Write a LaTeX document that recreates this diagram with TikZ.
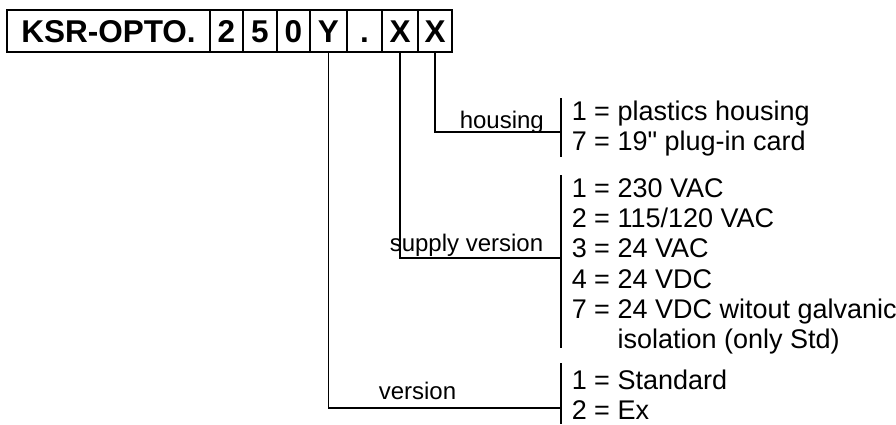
\documentclass[tikz,border=0pt]{standalone}
\usepackage{fontspec}
\newfontfamily\specfont{Liberation Sans}
\usetikzlibrary{positioning}

\begin{document}
\begin{tikzpicture}[x=1pt,y=-1pt,line width=1.5pt]
    \tikzstyle{cell}=[draw, line width=1.9pt, minimum height=42pt, inner sep=0pt, text height=23pt, text depth=0pt, font=\fontsize{31.5}{31}\specfont\bfseries]
    \tikzstyle{item}=[anchor=base west, inner sep=0pt, font=\fontsize{27}{30}\specfont]
    \tikzstyle{fieldname}=[anchor=base west, inner sep=0pt, font=\fontsize{24}{28}\specfont]
    \useasboundingbox (0,0) rectangle (896,424);

    % type code
    \node[cell, minimum width=203pt] (ksr) at (108.5,31) {KSR-OPTO.};
    \node[cell, minimum width=33pt]  (d2)  at (226.5,31) {2};
    \node[cell, minimum width=34pt]  (d5)  at (260,31)   {5};
    \node[cell, minimum width=33pt]  (d0)  at (293.5,31) {0};
    \node[cell, minimum width=37pt]  (y)   at (328.5,31) {Y};
    \node[cell, minimum width=35pt]  (dot) at (364.5,31) {.};
    \node[cell, minimum width=36pt]  (xa)  at (400,31)   {X};
    \node[cell, minimum width=34pt]  (xb)  at (435,31)   {X};

    % bracket ends
    \coordinate (hb)  at (561,132);
    \coordinate (hbt) at (561,98);
    \coordinate (hbb) at (561,157);
    \coordinate (sb)  at (561,258);
    \coordinate (sbt) at (561,175);
    \coordinate (sbb) at (561,348);
    \coordinate (vb)  at (561,408);
    \coordinate (vbt) at (561,363);
    \coordinate (vbb) at (561,424);

    \draw (xb.south) |- (hb);
    \draw (xa.south) |- (sb);
    \draw (y.south)  |- (vb);
    \draw (hbt) -- (hbb);
    \draw (sbt) -- (sbb);
    \draw (vbt) -- (vbb);

    % field names
    \node[fieldname] (housing) at (459,128) {housing};
    \node[fieldname] (supply)  at (389,251) {supply version};
    \node[fieldname] (version) at (378,399) {version};

    % housing
    \node[item] (h1) at (571,120) {1 = plastics housing};
    \node[item] (h7) at (571,150) {7 = 19" plug-in card};
    % supply
    \node[item] (s1) at (571,197) {1 = 230 VAC};
    \node[item] (s2) at (571,227) {2 = 115/120 VAC};
    \node[item] (s3) at (571,257) {3 = 24 VAC};
    \node[item] (s4) at (571,288) {4 = 24 VDC};
    \node[item] (s7) at (571,318) {7 = 24 VDC witout galvanic};
    \node[item] (s7b) at (571,348) {\phantom{7 = }isolation (only Std)};
    % version
    \node[item] (v1) at (571,389) {1 = Standard};
    \node[item] (v2) at (571,419) {2 = Ex};
\end{tikzpicture}
\end{document}
